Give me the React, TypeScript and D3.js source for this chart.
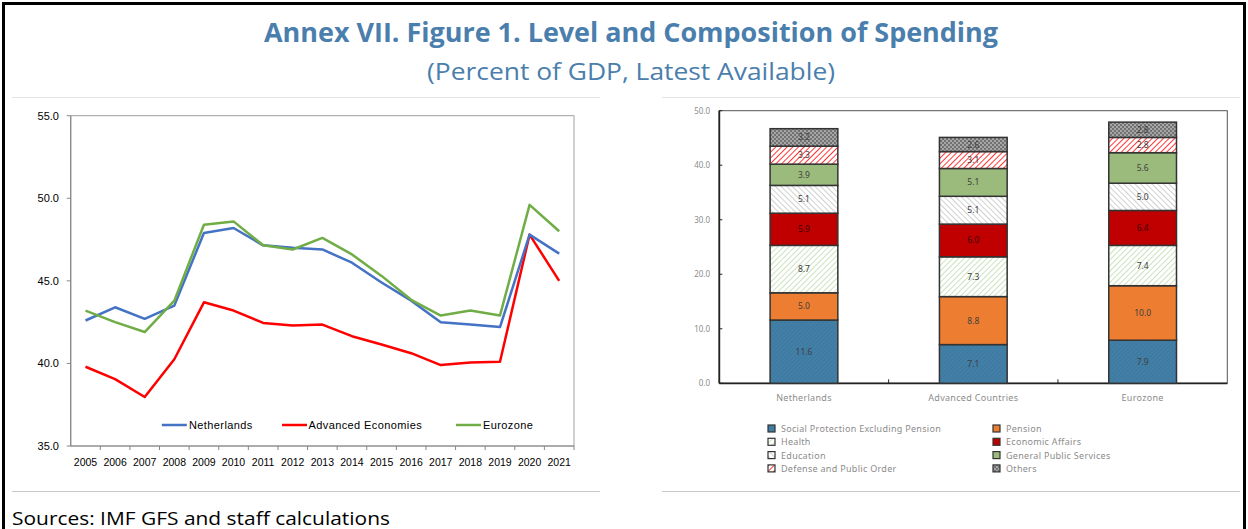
import React from "react";
import * as d3 from "d3";

const years = ["2005","2006","2007","2008","2009","2010","2011","2012","2013","2014","2015","2016","2017","2018","2019","2020","2021"];
const netherlands = [42.6,43.4,42.7,43.5,47.9,48.2,47.15,47.0,46.9,46.1,44.9,43.8,42.5,42.35,42.2,47.8,46.65];
const advancedEconomies = [39.8,39.05,37.97,40.25,43.7,43.2,42.45,42.3,42.35,41.65,41.15,40.62,39.9,40.05,40.1,47.8,45.0];
const eurozone = [43.2,42.5,41.9,43.8,48.4,48.6,47.15,46.9,47.6,46.6,45.3,43.85,42.9,43.2,42.9,49.6,48.0];
const leftTicks = [35, 40, 45, 50, 55];

const countries = ["Netherlands", "Advanced Countries", "Eurozone"];
const socialProtection = [11.6, 7.1, 7.9];
const pension = [5.0, 8.8, 10.0];
const health = [8.7, 7.3, 7.4];
const economicAffairs = [5.9, 6.0, 6.4];
const education = [5.1, 5.1, 5.0];
const generalPublic = [3.9, 5.1, 5.6];
const defense = [3.3, 3.1, 2.8];
const others = [3.2, 2.6, 2.8];
const rightTicks = [0, 10, 20, 30, 40, 50];

const componentNames = [
  "Social Protection Excluding Pension", "Pension", "Health", "Economic Affairs",
  "Education", "General Public Services", "Defense and Public Order", "Others",
];
const componentValues = [socialProtection, pension, health, economicAffairs, education, generalPublic, defense, others];
const componentFills = ["url(#pSocial)", "#ed7d31", "url(#pHealth)", "#c00000", "url(#pEdu)", "#9bbb7c", "url(#pDef)", "url(#pOthers)"];
const legendOrder = [0, 1, 2, 3, 4, 5, 6, 7];

const seriesColors = ["#4472c4", "#ff0000", "#70ad47"];
const seriesNames = ["Netherlands", "Advanced Economies", "Eurozone"];

export default function App() {
  // Left chart
  const L = { x0: 70.7, x1: 574, y0: 115.7, y1: 446 };
  const xL = d3.scaleBand<string>().domain(years).range([L.x0, L.x1]);
  const yL = d3.scaleLinear().domain([35, 55]).range([L.y1, L.y0]);
  const line = d3.line<number>().x((_, i) => (xL(years[i]) as number) + xL.bandwidth() / 2).y((d) => yL(d));
  const series = [netherlands, advancedEconomies, eurozone];
  // draw order: red, blue, green? green on top in ref near overlaps
  const drawOrder = [1, 0, 2];

  // Right chart
  const R = { x0: 719.3, x1: 1227.3, y0: 110.7, y1: 383.3 };
  const xR = d3.scaleBand<string>().domain(countries).range([R.x0, R.x1]).paddingInner(0).paddingOuter(0);
  const yR = d3.scaleLinear().domain([0, 50]).range([R.y1, R.y0]);
  const barW = xR.bandwidth() * 0.4;
  const stackData = countries.map((c, ci) => {
    const o: any = { country: c };
    componentNames.forEach((n, k) => (o[n] = componentValues[k][ci]));
    return o;
  });
  const stacked = d3.stack<any>().keys(componentNames)(stackData);

  const legX = [161.8, 282, 456];
  const legTextX = [189, 308.5, 483];

  return (
    <svg width={1248} height={529} style={{ position: "absolute", left: 0, top: 0 }}>
      <defs>
        <pattern id="pSocial" patternUnits="userSpaceOnUse" width={3} height={3} patternTransform="rotate(45)">
          <rect width={3} height={3} fill="#4280a8" />
          <line x1={0} y1={0} x2={0} y2={3} stroke="#3a6f94" strokeWidth={1} />
        </pattern>
        <pattern id="pHealth" patternUnits="userSpaceOnUse" width={4} height={4} patternTransform="rotate(45)">
          <rect width={4} height={4} fill="#ffffff" />
          <line x1={0} y1={0} x2={0} y2={4} stroke="#a9cf8f" strokeWidth={1.2} />
        </pattern>
        <pattern id="pEdu" patternUnits="userSpaceOnUse" width={4} height={4} patternTransform="rotate(-45)">
          <rect width={4} height={4} fill="#ffffff" />
          <line x1={0} y1={0} x2={0} y2={4} stroke="#b0b0b0" strokeWidth={1.2} />
        </pattern>
        <pattern id="pDef" patternUnits="userSpaceOnUse" width={4} height={4} patternTransform="rotate(45)">
          <rect width={4} height={4} fill="#ffffff" />
          <line x1={0} y1={0} x2={0} y2={4} stroke="#ff2020" strokeWidth={1.8} />
        </pattern>
        <pattern id="pOthers" patternUnits="userSpaceOnUse" width={4} height={4}>
          <rect width={4} height={4} fill="#a6a6a6" />
          <circle cx={1} cy={1} r={0.8} fill="#303030" />
          <circle cx={3} cy={3} r={0.8} fill="#303030" />
        </pattern>
      </defs>
      <rect x={0} y={0} width={1248} height={529} fill="#ffffff" />
      {/* outer frame */}
      <line x1={3.5} y1={2} x2={3.5} y2={529} stroke="#000" strokeWidth={3} />
      <line x1={2} y1={3.5} x2={1246} y2={3.5} stroke="#000" strokeWidth={3} />
      <line x1={1244.5} y1={2} x2={1244.5} y2={529} stroke="#000" strokeWidth={3} />

      {/* titles */}
      <text x={631} y={42} textAnchor="middle" fontFamily="'Open Sans', sans-serif" fontWeight="bold" fontSize={26} fill="#4a7ead" textLength={734} lengthAdjust="spacingAndGlyphs">
        Annex VII. Figure 1. Level and Composition of Spending
      </text>
      <text x={631} y={80} textAnchor="middle" fontFamily="'Open Sans', sans-serif" fontSize={23} fill="#4a7ead" textLength={408} lengthAdjust="spacingAndGlyphs">
        (Percent of GDP, Latest Available)
      </text>

      {/* panel separators */}
      <line x1={12} y1={97.5} x2={600} y2={97.5} stroke="#e4e4e4" strokeWidth={1} />
      <line x1={662} y1={97.5} x2={1240} y2={97.5} stroke="#e4e4e4" strokeWidth={1} />
      <line x1={12} y1={491.5} x2={600} y2={491.5} stroke="#c8c8c8" strokeWidth={1} />
      <line x1={662} y1={491.5} x2={1240} y2={491.5} stroke="#c8c8c8" strokeWidth={1} />

      {/* LEFT CHART */}
      <rect x={L.x0} y={L.y0} width={L.x1 - L.x0} height={L.y1 - L.y0} fill="none" stroke="#a0a0a0" strokeWidth={1} />
      <line x1={L.x0} y1={L.y0} x2={L.x0} y2={L.y1} stroke="#888" strokeWidth={1.2} />
      <line x1={L.x0} y1={L.y1} x2={L.x1} y2={L.y1} stroke="#888" strokeWidth={1.2} />
      {leftTicks.map((t) => (
        <g key={t}>
          <line x1={L.x0 - 4} x2={L.x0} y1={yL(t)} y2={yL(t)} stroke="#888" />
          <text x={59} y={yL(t) + 4} textAnchor="end" fontFamily="'Liberation Sans', Arial, sans-serif" fontSize={11} fill="#000">
            {t.toFixed(1)}
          </text>
        </g>
      ))}
      {years.map((y, i) => (
        <g key={y}>
          <line x1={(xL(y) as number) + xL.bandwidth()} x2={(xL(y) as number) + xL.bandwidth()} y1={L.y1} y2={L.y1 + 4} stroke="#888" />
          <text x={(xL(y) as number) + xL.bandwidth() / 2} y={466} textAnchor="middle" fontFamily="'Liberation Sans', Arial, sans-serif" fontSize={10.5} fill="#000">
            {y}
          </text>
        </g>
      ))}
      {drawOrder.map((k) => (
        <path key={k} d={line(series[k]) as string} fill="none" stroke={seriesColors[k]} strokeWidth={2.5} strokeLinejoin="round" />
      ))}
      {seriesNames.map((n, k) => (
        <g key={n}>
          <line x1={legX[k]} x2={legX[k] + 25} y1={425} y2={425} stroke={seriesColors[k]} strokeWidth={2.5} />
          <text x={legTextX[k]} y={429} fontFamily="'Liberation Sans', Arial, sans-serif" fontSize={11} fill="#000" letterSpacing={0.4}>
            {n}
          </text>
        </g>
      ))}

      {/* RIGHT CHART */}
      <rect x={R.x0} y={R.y0} width={R.x1 - R.x0} height={R.y1 - R.y0} fill="none" stroke="#555" strokeWidth={1} />
      <line x1={R.x0} y1={R.y0} x2={R.x0} y2={R.y1} stroke="#222" strokeWidth={1.8} />
      <line x1={R.x0} y1={R.y1} x2={R.x1} y2={R.y1} stroke="#222" strokeWidth={1.8} />
      {rightTicks.map((t) => (
        <g key={t}>
          <line x1={R.x0} x2={R.x0 + 3} y1={yR(t)} y2={yR(t)} stroke="#222" />
          <text x={710} y={yR(t) + 3} textAnchor="end" fontFamily="'Noto Sans', sans-serif" fontSize={8} fill="#8c8c8c">
            {t.toFixed(1)}
          </text>
        </g>
      ))}
      {countries.slice(0, 2).map((c) => (
        <line key={c} x1={(xR(c) as number) + xR.bandwidth()} x2={(xR(c) as number) + xR.bandwidth()} y1={R.y1} y2={R.y1 - 4} stroke="#222" />
      ))}
      {countries.map((c) => (
        <text key={c} x={(xR(c) as number) + xR.bandwidth() / 2} y={401} textAnchor="middle" fontFamily="'Noto Sans', sans-serif" fontSize={9} fill="#8c8c8c" letterSpacing={0.3}>
          {c}
        </text>
      ))}
      {stacked.map((layer, k) =>
        layer.map((seg, ci) => {
          const cx = (xR(countries[ci]) as number) + xR.bandwidth() / 2;
          const yTop = yR(seg[1]);
          const yBot = yR(seg[0]);
          return (
            <g key={`${k}-${ci}`}>
              <rect x={cx - barW / 2} y={yTop} width={barW} height={yBot - yTop} fill={componentFills[k]} stroke="#333" strokeWidth={1.5} />
              <text x={cx} y={(yTop + yBot) / 2 + 3} textAnchor="middle" fontFamily="'Noto Sans', sans-serif" fontSize={8.5} fill={k === 3 ? "#3a0000" : "#404040"}>
                {componentValues[k][ci].toFixed(1)}
              </text>
            </g>
          );
        })
      )}
      {legendOrder.map((k) => {
        const col = k % 2;
        const row = Math.floor(k / 2);
        const sx = col === 0 ? 768 : 993;
        const sy = 425 + row * 13.3;
        return (
          <g key={k}>
            <rect x={sx} y={sy} width={7} height={7} fill={componentFills[k]} stroke="#333" strokeWidth={1.2} />
            <text x={sx + 13} y={sy + 7} fontFamily="'Noto Sans', sans-serif" fontSize={9} fill="#8c8c8c" letterSpacing={0.3}>
              {componentNames[k]}
            </text>
          </g>
        );
      })}

      {/* source */}
      <text x={12} y={525} fontFamily="'Open Sans', sans-serif" fontSize={18} fill="#000" textLength={378} lengthAdjust="spacingAndGlyphs">
        Sources: IMF GFS and staff calculations
      </text>
    </svg>
  );
}
